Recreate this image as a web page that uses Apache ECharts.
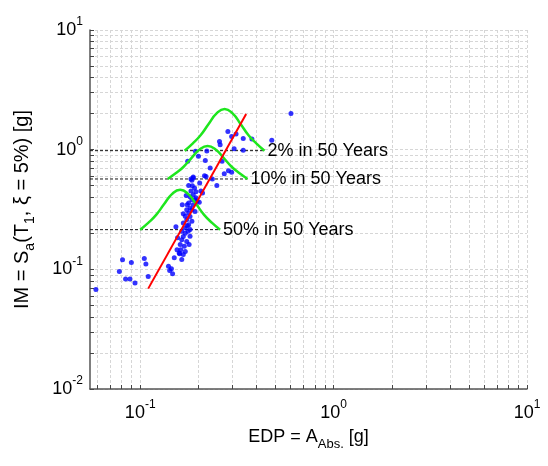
<!DOCTYPE html>
<html lang="en">
<head>
<meta charset="utf-8">
<title>IM vs EDP</title>
<script src="https://cdn.jsdelivr.net/npm/echarts@6/dist/echarts.min.js"></script>
</head>
<body style="margin:0">
<div id="main" style="width:548px;height:466px;"></div>
<script>
// axis ranges
var xMin = 0.055, xMax = 10;
var yMin = 0.01, yMax = 10;
// minor grid positions (log grid)
var xGrid = [0.06, 0.07, 0.08, 0.09, 0.1, 0.2, 0.3, 0.4, 0.5, 0.6, 0.7, 0.8, 0.9, 1, 2, 3, 4, 5, 6, 7, 8, 9, 10];
var yGrid = [0.01, 0.02, 0.03, 0.04, 0.05, 0.06, 0.07, 0.08, 0.09, 0.1, 0.2, 0.3, 0.4, 0.5, 0.6, 0.7, 0.8, 0.9, 1, 2, 3, 4, 5, 6, 7, 8, 9, 10];

// analysis results: EDP (peak abs. acceleration) vs IM
var edp = [0.059, 0.078, 0.081, 0.090, 0.084, 0.0885, 0.094, 0.105, 0.107, 0.110,
  0.140, 0.145, 0.147, 0.142, 0.150, 0.160, 0.164, 0.161, 0.169, 0.162,
  0.171, 0.159, 0.167, 0.164, 0.174, 0.167, 0.181, 0.164, 0.171, 0.177,
  0.153, 0.171, 0.181, 0.167, 0.178, 0.174, 0.185, 0.171, 0.181, 0.178,
  0.174, 0.185, 0.192, 0.181, 0.188, 0.178, 0.197, 0.185, 0.194, 0.181,
  0.188, 0.194, 0.183, 0.191, 0.186, 0.178, 0.183, 0.188, 0.202, 0.210,
  0.203, 0.215, 0.249, 0.206, 0.284, 0.313, 0.297, 0.341, 0.378, 0.257,
  0.259, 0.479, 0.306, 0.341, 0.193, 0.221, 0.176, 0.200, 0.217, 0.230,
  0.265, 0.272, 0.286, 0.297, 0.219, 0.188, 0.185, 0.602, 0.236, 0.175,
  0.167, 0.192, 0.173, 0.165, 0.156, 0.179, 0.155, 0.175];
var im = [0.068, 0.096, 0.120, 0.114, 0.083, 0.083, 0.077, 0.123, 0.111, 0.087,
  0.106, 0.101, 0.092, 0.098, 0.125, 0.135, 0.121, 0.161, 0.156, 0.146,
  0.141, 0.137, 0.133, 0.177, 0.171, 0.188, 0.189, 0.208, 0.200, 0.208,
  0.227, 0.222, 0.215, 0.244, 0.236, 0.260, 0.252, 0.278, 0.276, 0.296,
  0.315, 0.315, 0.305, 0.326, 0.347, 0.358, 0.370, 0.382, 0.397, 0.404,
  0.421, 0.446, 0.451, 0.479, 0.500, 0.503, 0.569, 0.591, 0.363, 0.434,
  0.527, 0.606, 0.503, 0.451, 1.42, 1.35, 1.29, 1.24, 1.23, 1.17,
  1.10, 1.20, 1.02, 0.987, 0.968, 0.975, 0.799, 0.879, 0.813, 0.703,
  0.799, 0.630, 0.668, 0.648, 0.598, 0.580, 0.555, 2.01, 0.569, 0.347,
  0.292, 0.382, 0.413, 0.347, 0.184, 0.161, 0.146, 0.231];

// fitted relationship
var fitX = [0.110, 0.353];
var fitY = [0.069, 1.99];

// hazard levels and their EDP distributions (drawn on the IM level)
var hazardNames = ['50% in 50 Years', '10% in 50 Years', '2% in 50 Years'];
var hazardIM = [0.2146, 0.569, 0.981];
var hazardEnd = [0.2588, 0.3589, 0.4393];
var pdf50X = [0.1000, 0.1100, 0.1209, 0.1330, 0.1463, 0.1609, 0.1769, 0.1946, 0.2140, 0.2353, 0.2588];
var pdf50Y = [0.2146, 0.2446, 0.2853, 0.3512, 0.4273, 0.4633, 0.4273, 0.3512, 0.2853, 0.2446, 0.2146];
var pdf10X = [0.1387, 0.1525, 0.1677, 0.1844, 0.2028, 0.2232, 0.2454, 0.2698, 0.2969, 0.3264, 0.3589];
var pdf10Y = [0.569, 0.634, 0.720, 0.854, 1.004, 1.074, 1.004, 0.854, 0.720, 0.634, 0.569];
var pdf2X = [0.1697, 0.1866, 0.2052, 0.2258, 0.2483, 0.2730, 0.3003, 0.3303, 0.3632, 0.3995, 0.4393];
var pdf2Y = [0.981, 1.125, 1.319, 1.640, 2.011, 2.189, 2.011, 1.640, 1.319, 1.125, 0.981];

var FONT = 'Liberation Sans, Arial, Helvetica, sans-serif';

function zip(a, b) {
    return a.map(function (v, i) { return [v, b[i]]; });
}

function powLabel(v) {
    var l = Math.log10(v);
    var e = Math.round(l);
    if (Math.abs(l - e) > 1e-6) return '';
    return '{b|10}{s|' + e + '}';
}

var tickRich = {
    b: { fontFamily: FONT, fontSize: 18, lineHeight: 28, color: '#000' },
    s: { fontFamily: FONT, fontSize: 12, lineHeight: 12, verticalAlign: 'top', color: '#000' }
};
var xNameRich = {
    m: { fontFamily: FONT, fontSize: 18, lineHeight: 28, color: '#000' },
    u: { fontFamily: FONT, fontSize: 13, lineHeight: 16, verticalAlign: 'bottom', color: '#000' }
};
var yNameRich = {
    m: { fontFamily: FONT, fontSize: 20, lineHeight: 30, color: '#000' },
    u: { fontFamily: FONT, fontSize: 14, lineHeight: 17, verticalAlign: 'bottom', color: '#000' }
};

var gridLine = { show: true, lineStyle: { color: '#d6d6d6', width: 1, type: [3, 2] } };
var minorTick = { show: true, inside: true, length: 4, lineStyle: { color: '#444', width: 1 } };

var series = [];
hazardNames.forEach(function (name, i) {
    series.push({
        name: name,
        type: 'line',
        data: [[xMin, hazardIM[i]], [hazardEnd[i], hazardIM[i]]],
        symbol: 'none',
        lineStyle: { color: '#111', width: 1, type: [3, 2] },
        endLabel: {
            show: true, formatter: name, color: '#000', fontFamily: FONT, fontSize: 18, distance: 3
        },
        z: 2
    });
});
series.push({
    type: 'scatter',
    data: zip(edp, im),
    symbolSize: 5,
    itemStyle: { color: '#0000ff' },
    z: 3
});
[[pdf50X, pdf50Y], [pdf10X, pdf10Y], [pdf2X, pdf2Y]].forEach(function (c) {
    series.push({
        type: 'line',
        data: zip(c[0], c[1]),
        smooth: true,
        symbol: 'none',
        lineStyle: { color: '#1ee61e', width: 2.5 },
        z: 4
    });
});
series.push({
    type: 'line',
    data: zip(fitX, fitY),
    symbol: 'none',
    lineStyle: { color: '#ff0000', width: 2 },
    z: 5
});

var myChart = echarts.init(document.getElementById('main'));
myChart.setOption({
    animation: false,
    textStyle: { fontFamily: FONT },
    grid: { left: 90, right: 21, top: 30, bottom: 77 },
    xAxis: [{
        type: 'log',
        min: xMin, max: xMax,
        position: 'bottom',
        name: '{m|EDP = A}{u|Abs.}{m| [g]}',
        nameLocation: 'middle',
        nameGap: 34,
        nameTextStyle: { rich: xNameRich },
        axisLine: { show: true, onZero: false, lineStyle: { color: '#555', width: 1.5 } },
        axisTick: { show: false },
        splitLine: { show: false },
        axisLabel: { formatter: powLabel, margin: 10, rich: tickRich, showMinLabel: true, showMaxLabel: true }
    }, {
        type: 'value',
        min: Math.log10(xMin), max: Math.log10(xMax),
        position: 'bottom',
        axisLine: { show: false, onZero: false },
        axisLabel: { show: false },
        axisTick: Object.assign({ customValues: xGrid.map(function (v) { return Math.log10(v); }) }, minorTick),
        splitLine: gridLine
    }],
    yAxis: [{
        type: 'log',
        min: yMin, max: yMax,
        position: 'left',
        name: '{m|IM = S}{u|a}{m|(T}{u|1}{m|, ξ = 5%) [g]}',
        nameLocation: 'middle',
        nameGap: 53,
        nameTextStyle: { rich: yNameRich },
        axisLine: { show: true, onZero: false, lineStyle: { color: '#555', width: 1.5 } },
        axisTick: { show: false },
        splitLine: { show: false },
        axisLabel: { formatter: powLabel, margin: 7, rich: tickRich }
    }, {
        type: 'value',
        min: Math.log10(yMin), max: Math.log10(yMax),
        position: 'left',
        axisLine: { show: false, onZero: false },
        axisLabel: { show: false },
        axisTick: Object.assign({ customValues: yGrid.map(function (v) { return Math.log10(v); }) }, minorTick),
        splitLine: gridLine
    }],
    series: series
});
</script>
</body>
</html>
